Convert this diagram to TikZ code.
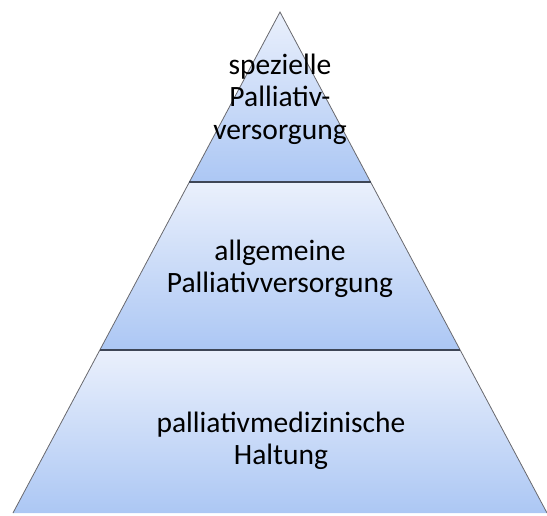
\documentclass[tikz,border=0pt]{standalone}
\usepackage{fontspec}
\setmainfont{Carlito}
\definecolor{bandtop}{RGB}{234,240,252}
\definecolor{bandbot}{RGB}{172,199,244}
\definecolor{edgegray}{RGB}{105,105,110}
\definecolor{sepline}{RGB}{62,70,86}

\begin{document}
\begin{tikzpicture}[x=1pt, y=-1pt,
    bandfill/.style={top color=bandtop, bottom color=bandbot},
    bandtext/.style={align=center, font=\fontsize{29.5}{32.5}\selectfont, text=black}]
    \useasboundingbox (0,0) rectangle (547,515);
    \coordinate (apex) at (280,12);
    \foreach \n/\y in {1/182, 2/350, 3/513} {
      \coordinate (l\n) at ({280-(\y-12)*0.533},\y);
      \coordinate (r\n) at ({280+(\y-12)*0.533},\y);
    }
    \shade[bandfill] (apex) -- (l1) -- (r1) -- cycle;
    \shade[bandfill] (l1) -- (l2) -- (r2) -- (r1) -- cycle;
    \shade[bandfill] (l2) -- (l3) -- (r3) -- (r2) -- cycle;
    \draw[edgegray, line width=0.8pt] (l3) -- (apex) -- (r3);
    \draw[sepline, line width=1.6pt] (l1) -- (r1) (l2) -- (r2);
    \node[bandtext] (spez) at (280,99) {spezielle\\Palliativ-\\versorgung};
    \node[bandtext] (allg) at (280,269) {allgemeine\\Palliativversorgung};
    \node[bandtext] (halt) at (281,441) {palliativmedizinische\\Haltung};
  \end{tikzpicture}
\end{document}
